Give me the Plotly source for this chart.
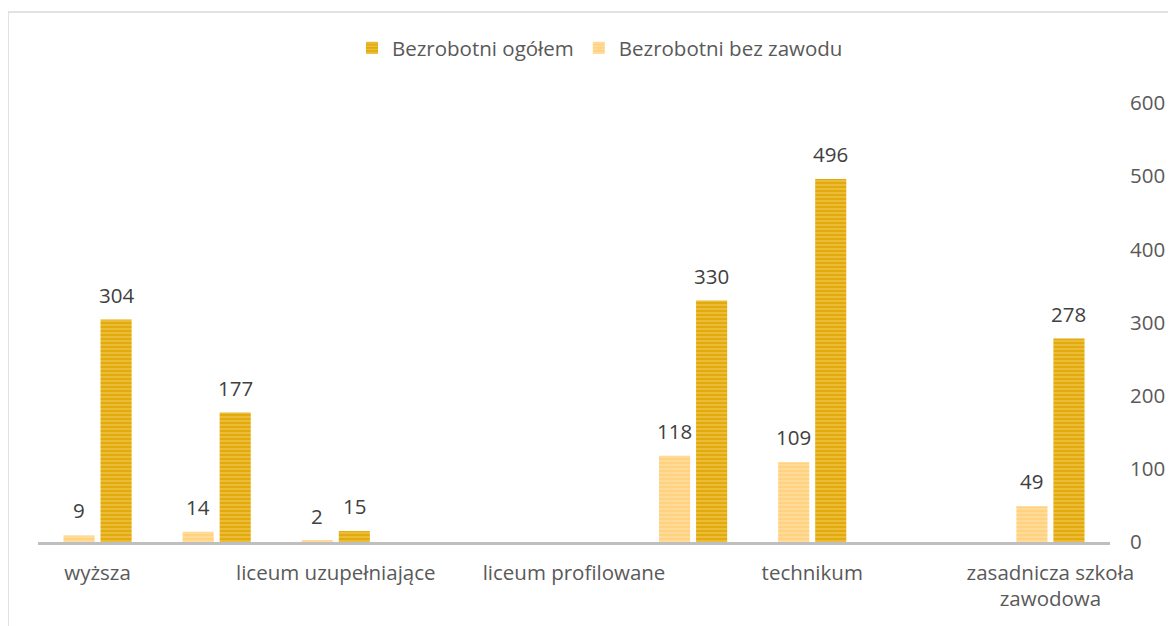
import plotly.graph_objects as go

categories = [
    "wyższa",
    "szkoła policealna",
    "liceum uzupełniające",
    "technikum uzupełniające",
    "liceum profilowane",
    "liceum ogólnokształcące",
    "technikum",
    "gimnazjum",
    "zasadnicza szkoła<br>zawodowa",
]
shown_labels = [
    "wyższa",
    "liceum uzupełniające",
    "liceum profilowane",
    "technikum",
    "zasadnicza szkoła<br>zawodowa",
]
bez_zawodu = [9, 14, 2, None, None, 118, 109, None, 49]
ogolem = [304, 177, 15, None, None, 330, 496, None, 278]

FONT = "'Open Sans', Lato, sans-serif"
FS = 20.5

fig = go.Figure()
fig.add_trace(go.Bar(
    name="Bezrobotni bez zawodu",
    x=categories, y=bez_zawodu,
    marker=dict(color="#FFD27F", line=dict(width=0),
                pattern=dict(shape="-", fgcolor="#FFE6B8", size=4, solidity=0.45)),
))
fig.add_trace(go.Bar(
    name="Bezrobotni ogółem",
    x=categories, y=ogolem,
    marker=dict(color="#E2AA0C", line=dict(width=0),
                pattern=dict(shape="-", fgcolor="#F5D36C", size=4, solidity=0.45)),
))

# page body has an 8px margin, so the figure starts at (8, 8)
OFF = 8
W, H = 1176 - OFF, 626 - OFF
L, R, T, B = 38 - OFF, 1176 - 1110, 103 - OFF, 626 - 542
pw, ph = W - L - R, H - T - B

def px_x(p):
    return (p - OFF - L) / pw

def px_y(p):
    return (H - B - (p - OFF)) / ph

annotations = []
for series, xshift in ((bez_zawodu, -18.5), (ogolem, 18.5)):
    for cat, val in zip(categories, series):
        if val is None:
            continue
        annotations.append(dict(
            x=cat, y=val, xref="x", yref="y", text=str(val),
            showarrow=False, xshift=xshift, yshift=9,
            xanchor="center", yanchor="bottom",
            font=dict(size=FS, color="#404040", family=FONT),
        ))

fig.update_layout(
    width=W, height=H,
    margin=dict(l=L, r=R, t=T, b=B),
    paper_bgcolor="white", plot_bgcolor="white",
    font=dict(family=FONT, size=FS, color="#595959"),
    barmode="group", bargap=0.378, bargroupgap=0.16,
    showlegend=True,
    legend=dict(orientation="h", x=px_x(600), xanchor="center",
                y=px_y(48), yanchor="middle", traceorder="reversed",
                font=dict(size=FS, color="#595959", family=FONT),
                itemwidth=30),
    xaxis=dict(
        type="category", categoryorder="array", categoryarray=categories,
        tickmode="array", tickvals=shown_labels, ticktext=shown_labels,
        showline=True, linecolor="#BFBFBF", linewidth=3,
        ticks="", showgrid=False, zeroline=False,
        ticklabelstandoff=10,
        tickfont=dict(size=FS, color="#595959", family=FONT),
    ),
    yaxis=dict(
        side="right", range=[0, 600], dtick=100,
        showgrid=False, zeroline=False, showline=False, ticks="",
        ticklabelstandoff=19,
        tickfont=dict(size=FS, color="#595959", family=FONT),
    ),
    annotations=annotations,
    shapes=[dict(type="rect", xref="paper", yref="paper",
                 x0=px_x(8), x1=px_x(1190), y0=px_y(640), y1=px_y(12),
                 line=dict(color="#D9D9D9", width=1.5), layer="below")],
)

fig.write_html("out.html")
